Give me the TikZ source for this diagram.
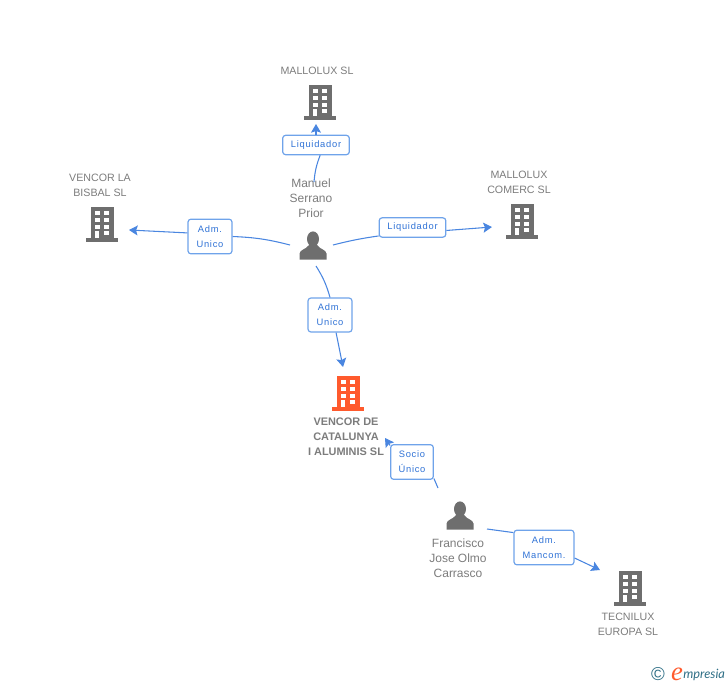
\documentclass[tikz,border=0pt]{standalone}
\usepackage{fontspec}
\setmainfont{Liberation Sans}
\newfontfamily\tagfont[LetterSpace=8]{Liberation Sans}
\newfontfamily\logofont{Lato}
\newfontfamily\logoefont{Liberation Serif}
\usetikzlibrary{arrows.meta}

\definecolor{iconGray}{HTML}{6E6E6E}
\definecolor{nameGray}{HTML}{7C7C7C}
\definecolor{linkBlue}{HTML}{4A86E0}
\definecolor{tagBlue}{HTML}{2F72D6}
\definecolor{tagEdge}{HTML}{6FA3EA}
\definecolor{firmOrange}{HTML}{FF5A2D}
\definecolor{logoTeal}{HTML}{2F6F86}

\tikzset{
  firmname/.style={text=nameGray,font=\fontsize{8}{11.25}\selectfont,align=center,inner sep=0pt},
  mainname/.style={text=nameGray,font=\fontsize{8.2}{11.25}\selectfont\bfseries,align=center,inner sep=0pt},
  personname/.style={text=nameGray,font=\fontsize{9}{11.25}\selectfont,align=center,inner sep=0pt},
  roletag/.style={draw=tagEdge,line width=0.9pt,rounded corners=2.2pt,fill=white,text=tagBlue,
    font=\fontsize{7}{11.25}\selectfont\tagfont,align=center,inner sep=0pt},
  link/.style={draw=linkBlue,line width=0.8pt},
  linkarrow/.style={link,-{Stealth[length=6.5pt,width=7.5pt,inset=1.2pt]}},
  pics/firm/.style={code={
    \fill[#1] (-11,-17) rectangle (12,15);
    \fill[#1] (-16,14) rectangle (16,17.5);
    \fill[white] (-7.5,-13) rectangle (-2.5,-9);
    \fill[white] (2,-13) rectangle (7,-9);
    \fill[white] (-7.5,-6) rectangle (-2.5,-2);
    \fill[white] (2,-6) rectangle (7,-2);
    \fill[white] (-7.5,0.5) rectangle (-2.5,4.5);
    \fill[white] (2,0.5) rectangle (7,4.5);
    \fill[white] (-7,7) rectangle (-3,14);
    \fill[white] (2,7) rectangle (7,11);
  }},
  pics/person/.style={code={
    \fill[iconGray] (0,0) ellipse (6 and 7.6);
    \fill[iconGray] (-13.5,20.5) -- (-13.5,14.5) .. controls (-13,10.5) and (-7,10.5) .. (-4,6)
      -- (4,6) .. controls (7,10.5) and (13,10.5) .. (13.5,14.5) -- (13.5,20.5) -- cycle;
  }}
}

\begin{document}
\begin{tikzpicture}[x=0.75pt,y=0.75pt,yscale=-1]
\useasboundingbox (0,0) rectangle (728,685);

%Icons
\pic[transform shape] at (320,102) {firm=iconGray};
\pic[transform shape] at (102,224) {firm=iconGray};
\pic[transform shape] at (522,221) {firm=iconGray};
\pic[transform shape] at (348,393) {firm=firmOrange};
\pic[transform shape] at (630,588) {firm=iconGray};
\pic[transform shape] at (313,239) {person};
\pic[transform shape] at (460,509) {person};

%Names
\node[firmname] (nameMallolux) at (317,71) {MALLOLUX SL};
\node[firmname] (nameBisbal) at (100,185.5) {VENCOR LA\\BISBAL SL};
\node[firmname] (nameComerc) at (519,182.5) {MALLOLUX\\COMERC SL};
\node[mainname] (nameVencor) at (346,437) {VENCOR DE\\CATALUNYA\\I ALUMINIS SL};
\node[firmname] (nameTecnilux) at (628,624.5) {TECNILUX\\EUROPA SL};
\node[personname] (nameManuel) at (311,198) {Manuel\\Serrano\\Prior};
\node[personname] (nameFrancisco) at (458,558) {Francisco\\Jose Olmo\\Carrasco};

%Role tags
\node[roletag,minimum width=50pt,minimum height=14.5pt] (tagTop) at (316,145) {Liquidador};
\node[roletag,minimum width=33pt,minimum height=26pt] (tagLeft) at (210,236.5) {Adm.\\Unico};
\node[roletag,minimum width=50pt,minimum height=14.5pt] (tagRight) at (412.5,227.5) {Liquidador};
\node[roletag,minimum width=33pt,minimum height=25.5pt] (tagDown) at (330,315) {Adm.\\Unico};
\node[roletag,minimum width=32pt,minimum height=26pt] (tagSocio) at (412,462) {Socio\\Único};
\node[roletag,minimum width=45pt,minimum height=26pt] (tagMancom) at (544,547.5) {Adm.\\Mancom.};

%Free ends
\coordinate (fromTop) at (314,182);
\coordinate (toTop) at (316,124);
\coordinate (fromLeft) at (290,245);
\coordinate (toLeft) at (129,230);
\coordinate (fromRight) at (333,245);
\coordinate (toRight) at (492,227);
\coordinate (fromDown) at (316,266);
\coordinate (toDown) at (343,367);
\coordinate (fromSocio) at (438,488);
\coordinate (toSocio) at (385,438);
\coordinate (fromMancom) at (487,529);
\coordinate (toMancom) at (600,570);

%Connectors
\draw[link] (fromTop) to[bend right=8] (tagTop.-68);
\draw[linkarrow] (tagTop.north) -- (toTop);
\draw[link] (fromLeft) to[bend left=6] (tagLeft.east);
\draw[linkarrow] (tagLeft.171) -- (toLeft);
\draw[link] (fromRight) to[bend right=3] (tagRight.194);
\draw[linkarrow] (tagRight.-5) -- (toRight);
\draw[link] (fromDown) to[bend right=8] (tagDown.north);
\draw[linkarrow] (tagDown.-71) -- (toDown);
\draw[link] (fromSocio) -- (tagSocio.-37);
\draw[linkarrow] (tagSocio.143) -- (toSocio);
\draw[link] (fromMancom) -- (tagMancom.154);
\draw[linkarrow] (tagMancom.-19) -- (toMancom);

%Logo
\node[text=logoTeal,font=\fontsize{14}{14}\selectfont,inner sep=0pt] (logoCircle) at (658,674) {©};
\node[text=firmOrange,font=\fontsize{20}{20}\logoefont\itshape,inner sep=0pt,anchor=base] (logoE) at (677,680) {e};
\node[text=logoTeal,font=\fontsize{9.6}{11}\logofont\itshape,inner sep=0pt,anchor=base west] (logoWord) at (683,678) {mpresia};

\end{tikzpicture}
\end{document}
